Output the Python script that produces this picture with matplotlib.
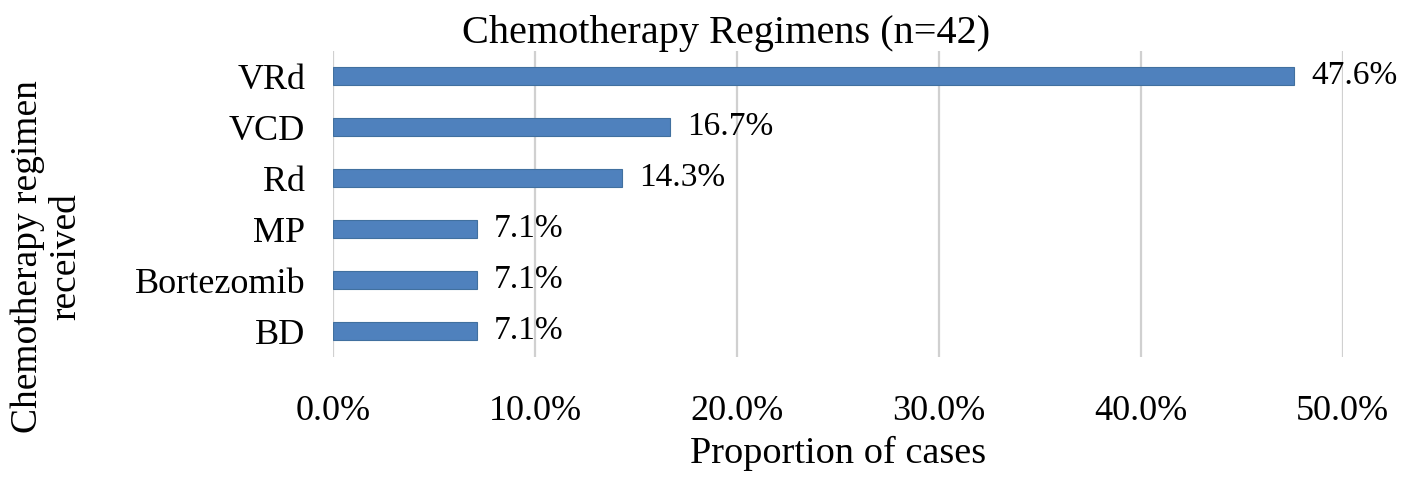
import matplotlib
matplotlib.use("Agg")
import matplotlib.pyplot as plt
from matplotlib.ticker import FuncFormatter

regimens = ["BD", "Bortezomib", "MP", "Rd", "VCD", "VRd"]
proportions = [7.1, 7.1, 7.1, 14.3, 16.7, 47.6]
x_ticks = [0, 10, 20, 30, 40, 50]

plt.rcParams["font.family"] = ["Liberation Serif", "DejaVu Serif"]

fig = plt.figure(figsize=(14.18, 4.78), dpi=100)
ax = fig.add_axes([0.235, 0.254, 0.712, 0.64])

ax.barh(range(len(regimens)), proportions, height=0.35, color="#4F81BD",
        edgecolor="#41709f", linewidth=0.8, zorder=3)
for i, v in enumerate(proportions):
    ax.text(v + 0.85, i, f"{v:.1f}%", va="center", ha="left", fontsize=24)

ax.set_xlim(0, 50)
ax.set_ylim(-0.5, len(regimens) - 0.5)
ax.set_xticks(x_ticks)
ax.xaxis.set_major_formatter(FuncFormatter(lambda v, _: f"{v:.1f}%"))
ax.set_yticks(range(len(regimens)))
ax.set_yticklabels(regimens)
ax.tick_params(axis="both", length=0, labelsize=26)
ax.tick_params(axis="x", pad=28)
ax.tick_params(axis="y", pad=20)
ax.grid(axis="x", color="#d0d0d0", linewidth=1.6, zorder=0)
for s in ax.spines.values():
    s.set_visible(False)

fig.text(0.512, 0.93, "Chemotherapy Regimens (n=42)", fontsize=29,
         ha="center", va="center")
ax.set_xlabel("Proportion of cases", fontsize=27.5, labelpad=5)
fig.text(0.033, 0.463, "Chemotherapy regimen\nreceived", fontsize=27,
         rotation=90, ha="center", va="center", linespacing=1.12)

fig.savefig("out.png", dpi=100)
